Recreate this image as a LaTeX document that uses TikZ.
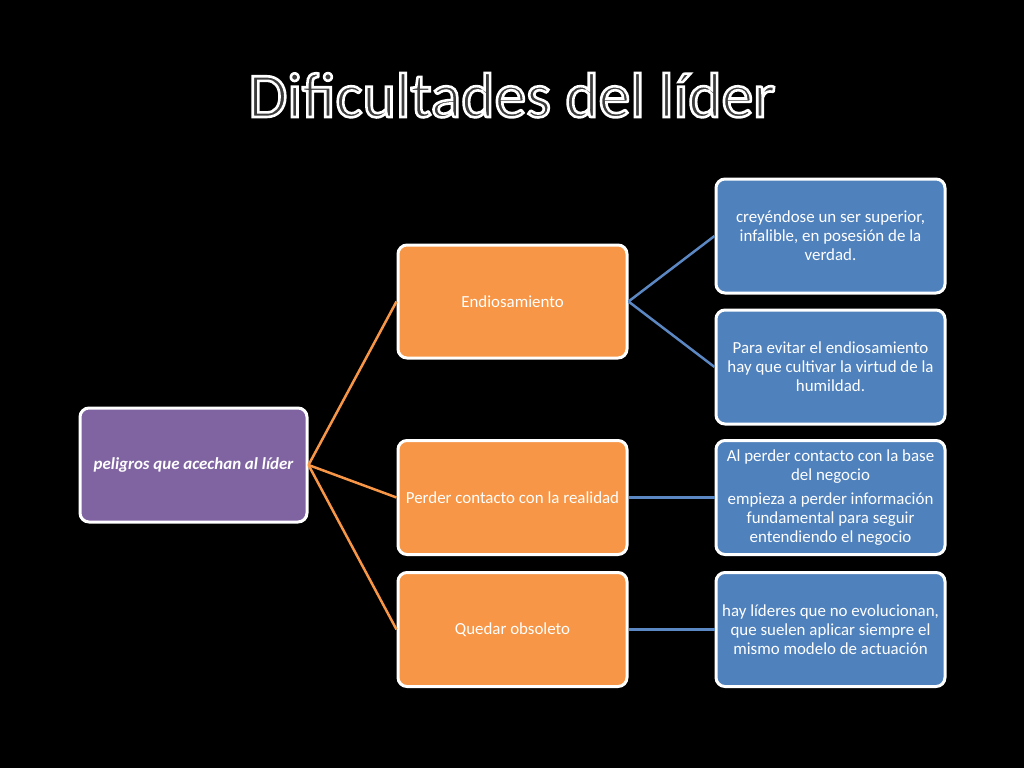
\documentclass[tikz,border=0pt]{standalone}
\usepackage{fontspec}
\setmainfont{Carlito}
\definecolor{purp}{HTML}{8064A2}
\definecolor{orng}{HTML}{F79646}
\definecolor{blu}{HTML}{4F81BD}
\definecolor{bluline}{HTML}{5B87C2}
\definecolor{titlefill}{HTML}{3C3C3C}
\newcommand{\outlinetext}[1]{\special{pdf:literal direct 2 Tr 2.6 w 1 1 1 RG}#1\special{pdf:literal direct 0 Tr}}
\tikzset{
  box/.style={draw=white, line width=3pt, rounded corners=9pt,
    minimum width=229pt, minimum height=114pt, text=white, align=center,
    font=\fontsize{16.9}{19}\selectfont, inner sep=0pt},
  pbox/.style={box, fill=purp, minimum width=227pt, font=\fontsize{16.9}{19}\selectfont\bfseries\itshape},
  obox/.style={box, fill=orng},
  bbox/.style={box, fill=blu},
  oline/.style={draw=orng, line width=2.5pt},
  bline/.style={draw=bluline, line width=2.5pt},
  titlestyle/.style={inner sep=0pt, anchor=base, text=titlefill, font=\fontsize{63.5}{70}\selectfont}
}
\begin{document}
\begin{tikzpicture}[x=1pt, y=-1pt]
\fill[black] (0,0) rectangle (1024,768);
\useasboundingbox (0,0) rectangle (1024,768);

% title
\node[titlestyle] (title) at (512,117) {\outlinetext{Dificultades del líder}};

% nodes
\node[pbox] (root) at (193.5,465) {peligros que acechan al líder};
\node[obox, minimum height=113pt] (o1) at (512.5,301.5) {Endiosamiento};
\node[obox] (o2) at (512.5,497.5) {Perder contacto con la realidad};
\node[obox] (o3) at (512.5,629.5) {Quedar obsoleto};

\node[bbox] (b1) at (830.5,236) {creyéndose un ser superior,\\ infalible, en posesión de la\\ verdad.};
\node[bbox] (b2) at (830.5,367) {Para evitar el endiosamiento\\ hay que cultivar la virtud de la\\ humildad.};
\node[bbox] (b3) at (830.5,497.5) {Al perder contacto con la base\\ del negocio\\[5pt] empieza a perder información\\ fundamental para seguir\\ entendiendo el negocio};
\node[bbox] (b4) at (830.5,629.5) {hay líderes que no evolucionan,\\ que suelen aplicar siempre el\\ mismo modelo de actuación};

% connectors
\draw[oline] (root.east) -- (o1.west);
\draw[oline] (root.east) -- (o2.west);
\draw[oline] (root.east) -- (o3.west);
\draw[bline] (o1.east) -- (b1.west);
\draw[bline] (o1.east) -- (b2.west);
\draw[bline] (o2.east) -- (b3.west);
\draw[bline] (o3.east) -- (b4.west);
\end{tikzpicture}
\end{document}
